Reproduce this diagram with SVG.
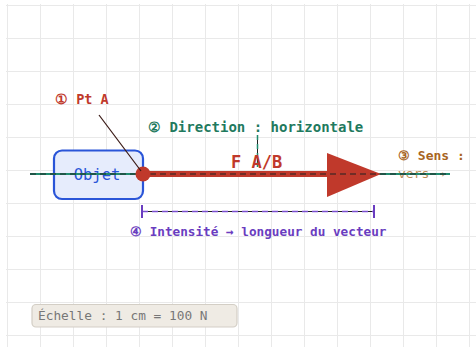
<svg xmlns="http://www.w3.org/2000/svg" width="476" height="347" viewBox="0 0 476 347">
<defs>
<pattern id="grid" x="7" y="5" width="33" height="33" patternUnits="userSpaceOnUse">
<path d="M0 0H33M0 0V33" fill="none" stroke="#e9e9e9" stroke-width="2"/>
</pattern>
<style>
.mono{font-family:"DejaVu Sans Mono","Liberation Mono",monospace;}
.b{font-weight:bold;}
.ink{stroke:#222;stroke-width:1;fill:none;}
</style>
</defs>
<rect x="0" y="0" width="476" height="347" fill="#ffffff"/>
<rect x="6" y="4" width="470" height="343" fill="url(#grid)"/>
<g id="objet">
<rect x="54" y="150.5" width="89" height="48.5" rx="8" fill="#e6ecfc" stroke="#2a55d8" stroke-width="2.2"/>
<text x="97" y="180" text-anchor="middle" class="mono" font-size="15.5" fill="#2a55d8">Objet</text>
</g>
<g id="sens">
<text x="398" y="160" class="mono b" font-size="13" fill="#a8651f">③ Sens :</text>
<text x="398" y="178" class="mono" font-size="13" fill="#b07a3a" opacity="0.85">vers →</text>
</g>
<g id="connectors">
<line x1="30" y1="174" x2="450" y2="174" stroke="#1f8a6e" stroke-width="2"/>
<g id="vector">
<line x1="143" y1="174" x2="330" y2="174" stroke="#c0392b" stroke-width="6"/>
<polygon points="327,153 381,174 327,197" fill="#c0392b"/>
</g>
<line x1="30" y1="174" x2="450" y2="174" class="ink" stroke-dasharray="6 4"/>
<line x1="257.5" y1="135" x2="257.5" y2="167" stroke="#222" stroke-width="1"/>
<line x1="257.5" y1="135" x2="257.5" y2="167" stroke="#1f8a6e" stroke-width="1.5" stroke-dasharray="5 4"/>
<g id="dimension">
<line x1="142" y1="211.5" x2="374" y2="211.5" stroke="#222" stroke-width="1"/>
<line x1="142" y1="211.5" x2="374" y2="211.5" stroke="#7b4fd0" stroke-width="1.5" stroke-dasharray="6 4"/>
<line x1="142" y1="205" x2="142" y2="218" stroke="#6a3dc0" stroke-width="2"/>
<line x1="374" y1="205" x2="374" y2="218" stroke="#6a3dc0" stroke-width="2"/>
</g>
</g>
<g id="pointA">
<circle cx="143" cy="174" r="7.5" fill="#c0392b"/>
<line x1="99" y1="115" x2="141" y2="171" stroke="#3a1a16" stroke-width="1.2"/>
<text x="55" y="104" class="mono b" font-size="13.5" fill="#c0392b">① Pt A</text>
</g>
<g id="force-label">
<text x="231" y="168" class="mono b" font-size="17" fill="#c0392b">F A/B</text>
</g>
<g id="direction">
<text x="148" y="132" class="mono b" font-size="14" fill="#1f7a5e">② Direction : horizontale</text>
</g>
<g id="intensite">
<text x="130" y="236" class="mono b" font-size="12.7" fill="#6a3dc0">④ Intensité → longueur du vecteur</text>
</g>
<g id="echelle">
<rect x="32" y="304.5" width="205" height="22.5" rx="4" fill="#efebe4" stroke="#d3cec5" stroke-width="1.2"/>
<text x="38" y="320" class="mono" font-size="12.8" fill="#777777">Échelle : 1 cm = 100 N</text>
</g>
</svg>
